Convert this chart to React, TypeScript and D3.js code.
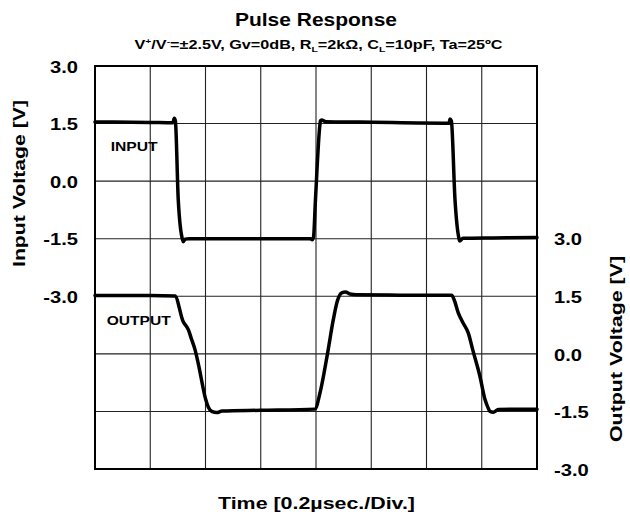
import React from "react";
import * as d3 from "d3";

// Time in divisions (0.2 µs / div), voltages in V
const inputT = [0, 1.0, 1.41, 1.435, 1.455, 1.507, 1.585, 1.6, 1.63, 1.7, 3.0, 3.9, 3.93, 3.955, 3.99, 4.07, 4.08, 4.1, 4.18, 4.8, 6.41, 6.425, 6.45, 6.516, 6.59, 6.6, 6.66, 7.2, 8.0];
const inputV = [1.54, 1.53, 1.52, 1.64, 1.57, -0.49, -1.53, -1.58, -1.51, -1.5, -1.5, -1.5, -1.53, -1.46, -0.49, 1.46, 1.57, 1.59, 1.55, 1.54, 1.51, 1.62, 1.57, -0.49, -1.51, -1.56, -1.49, -1.48, -1.47];

const outputT = [0, 1.0, 1.446, 1.593, 1.689, 1.75, 1.81, 1.873, 2.004, 2.054, 2.112, 2.203, 2.3, 3.0, 3.98, 4.072, 4.21, 4.313, 4.385, 4.465, 4.534, 4.615, 4.736, 5.52, 6.456, 6.5, 6.575, 6.66, 6.757, 6.836, 6.968, 7.059, 7.113, 7.149, 7.209, 7.3, 8.0];
const outputV = [1.52, 1.52, 1.51, 0.85, 0.63, 0.37, 0.11, -0.28, -1.19, -1.4, -1.5, -1.53, -1.49, -1.47, -1.44, -1.02, 0.02, 0.89, 1.37, 1.59, 1.61, 1.56, 1.54, 1.53, 1.53, 1.41, 1.07, 0.81, 0.54, 0.11, -0.59, -1.19, -1.4, -1.5, -1.52, -1.45, -1.44];

const timeDivs = [0, 1, 2, 3, 4, 5, 6, 7, 8];
const leftGrid = [3.0, 1.5, 0.0, -1.5, -3.0, -4.5, -6.0, -7.5];
const leftTicks = [3.0, 1.5, 0.0, -1.5, -3.0];
const rightTicks = [3.0, 1.5, 0.0, -1.5, -3.0];

const FONT = "'Liberation Sans', Arial, Helvetica, sans-serif";

export default function App() {
  const W = 630, H = 521;
  const L = 95, R = 537, T = 66, B = 469;
  const x = d3.scaleLinear().domain([0, 8]).range([L, R]);
  const yL = d3.scaleLinear().domain([-7.5, 3.0]).range([B, T]);
  const yR = d3.scaleLinear().domain([-3.0, 7.5]).range([B, T]);

  const inputData = inputT.map((t, i) => [t, inputV[i]] as [number, number]);
  const outputData = outputT.map((t, i) => [t, outputV[i]] as [number, number]);

  const lineIn = d3.line<[number, number]>().x(d => x(d[0])).y(d => yL(d[1])).curve(d3.curveMonotoneX);
  const lineOut = d3.line<[number, number]>().x(d => x(d[0])).y(d => yR(d[1])).curve(d3.curveMonotoneX);

  const fmt = (v: number) => v.toFixed(1);

  return (
    <svg width={W} height={H} style={{ position: "absolute", left: 0, top: 0, background: "#fff" }} fontFamily={FONT} fontWeight="bold">
      <rect x={0} y={0} width={W} height={H} fill="#fff" />
      {/* grid */}
      {timeDivs.map(d => (
        <line key={"v" + d} x1={x(d)} x2={x(d)} y1={T} y2={B} stroke="#222" strokeWidth={1.1} />
      ))}
      {leftGrid.map(v => (
        <line key={"h" + v} x1={L} x2={R} y1={yL(v)} y2={yL(v)} stroke="#222" strokeWidth={1.1} />
      ))}
      <rect x={L} y={T} width={R - L} height={B - T} fill="none" stroke="#000" strokeWidth={2} />

      {/* waveforms */}
      <path d={lineIn(inputData) || ""} fill="none" stroke="#000" strokeWidth={3.5} strokeLinejoin="round" strokeLinecap="round" />
      <path d={lineOut(outputData) || ""} fill="none" stroke="#000" strokeWidth={3.5} strokeLinejoin="round" strokeLinecap="round" />

      {/* left ticks */}
      {leftTicks.map(v => (
        <text key={"lt" + v} x={0} y={0} fontSize={16} textAnchor="end" dominantBaseline="central"
          transform={`translate(78,${yL(v) + 1.5}) scale(1.26,1)`}>{fmt(v)}</text>
      ))}
      {/* right ticks */}
      {rightTicks.map(v => (
        <text key={"rt" + v} x={0} y={0} fontSize={16} textAnchor="start" dominantBaseline="central"
          transform={`translate(554,${yR(v) + 1.5}) scale(1.26,1)`}>{fmt(v)}</text>
      ))}

      {/* labels */}
      <text x={110.7} y={146.5} fontSize={13.5} dominantBaseline="central" textLength={47} lengthAdjust="spacingAndGlyphs">INPUT</text>
      <text x={106.7} y={320.5} fontSize={13.5} dominantBaseline="central" textLength={64} lengthAdjust="spacingAndGlyphs">OUTPUT</text>

      {/* titles */}
      <text x={316} y={26} fontSize={18} textAnchor="middle" textLength={162} lengthAdjust="spacingAndGlyphs">Pulse Response</text>
      <text x={318.5} y={49} fontSize={12.5} textAnchor="middle" textLength={368} lengthAdjust="spacingAndGlyphs">
        V<tspan fontSize={8} dy={-5}>+</tspan><tspan dy={5}>/V</tspan><tspan fontSize={8} dy={-5}>-</tspan><tspan dy={5}>=±2.5V, Gv=0dB, R</tspan><tspan fontSize={8} dy={3}>L</tspan><tspan dy={-3}>=2kΩ, C</tspan><tspan fontSize={8} dy={3}>L</tspan><tspan dy={-3}>=10pF, Ta=25ºC</tspan>
      </text>

      {/* axis titles */}
      <text x={316.5} y={509} fontSize={16.5} textAnchor="middle" textLength={197} lengthAdjust="spacingAndGlyphs">Time [0.2µsec./Div.]</text>
      <text transform={`translate(19,183.5) rotate(-90)`} fontSize={16.5} textAnchor="middle" dominantBaseline="central" textLength={167} lengthAdjust="spacingAndGlyphs">Input Voltage [V]</text>
      <text transform={`translate(615.5,349) rotate(-90)`} fontSize={16.5} textAnchor="middle" dominantBaseline="central" textLength={186} lengthAdjust="spacingAndGlyphs">Output Voltage [V]</text>
    </svg>
  );
}
